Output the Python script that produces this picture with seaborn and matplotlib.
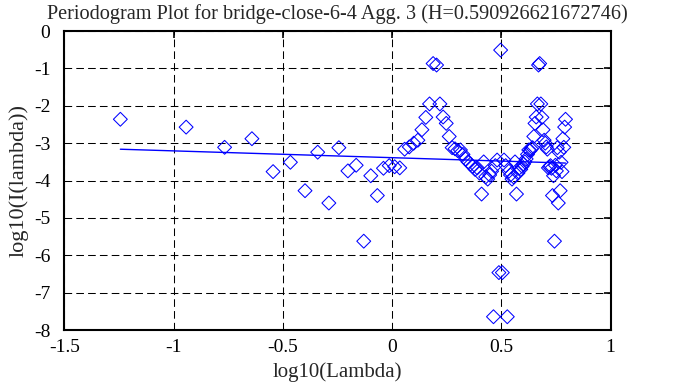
import numpy as np
import pandas as pd
import matplotlib
matplotlib.use("Agg")
import matplotlib.pyplot as plt
import seaborn as sns

# log10 of Fourier frequencies (x) and log10 of periodogram values (y)
log_lambda = [
    -1.2432, -0.9422, -0.7661, -0.6411, -0.5442, -0.4650, -0.3981, -0.3401, -0.2890, -0.2432,
    -0.2018, -0.1640, -0.1293, -0.0971, -0.0671, -0.0391, -0.0128, 0.0121, 0.0356, 0.0578,
    0.0790, 0.0992, 0.1185, 0.1370, 0.1547, 0.1718, 0.1882, 0.2040, 0.2192, 0.2339,
    0.2482, 0.2619, 0.2753, 0.2883, 0.3009, 0.3131, 0.3250, 0.3366, 0.3479, 0.3589,
    0.3696, 0.3800, 0.3903, 0.4003, 0.4100, 0.4196, 0.4289, 0.4380, 0.4470, 0.4558,
    0.4644, 0.4728, 0.4811, 0.4892, 0.4972, 0.5050, 0.5127, 0.5202, 0.5277, 0.5350,
    0.5421, 0.5492, 0.5561, 0.5630, 0.5697, 0.5763, 0.5829, 0.5893, 0.5956, 0.6019,
    0.6081, 0.6141, 0.6201, 0.6260, 0.6319, 0.6376, 0.6433, 0.6489, 0.6544, 0.6599,
    0.6653, 0.6706, 0.6759, 0.6811, 0.6862, 0.6913, 0.6963, 0.7013, 0.7062, 0.7110,
    0.7158, 0.7206, 0.7253, 0.7299, 0.7345, 0.7391, 0.7436, 0.7480, 0.7524, 0.7568,
    0.7611, 0.7654, 0.7696, 0.7738, 0.7780, 0.7821, 0.7862, 0.7902, 0.7942,
]
log_I = [
    -2.36, -2.57, -3.11, -2.88, -3.76, -3.51, -4.27, -3.24, -4.60, -3.12,
    -3.74, -3.59, -5.62, -3.87, -4.40, -3.67, -3.60, -3.63, -3.66, -3.16,
    -3.10, -3.00, -2.92, -2.64, -2.31, -1.95, -0.87, -0.91, -1.95, -2.30,
    -2.47, -2.82, -3.12, -3.15, -3.20, -3.18, -3.30, -3.42, -3.50, -3.56,
    -3.62, -3.70, -3.66, -3.80, -4.36, -3.50, -3.90, -3.96, -3.85, -3.75,
    -7.64, -3.60, -3.45, -6.46, -0.51, -6.46, -3.45, -3.60, -7.64, -3.75,
    -3.85, -3.96, -3.90, -3.50, -4.36, -3.80, -3.66, -3.70, -3.62, -3.56,
    -3.50, -3.42, -3.30, -3.18, -3.20, -3.15, -3.12, -2.82, -2.47, -2.30,
    -1.95, -0.91, -0.87, -1.95, -2.31, -2.64, -2.92, -3.00, -3.10, -3.16,
    -3.66, -3.63, -3.60, -3.67, -4.40, -3.87, -5.62, -3.59, -3.74, -3.12,
    -4.60, -3.24, -4.27, -3.51, -3.76, -2.88, -3.11, -2.57, -2.36,
]

H = 0.590926621672746
fit_intercept = -3.387
fit_slope = 1 - 2 * H

x_ticks = [-1.5, -1, -0.5, 0, 0.5, 1]
x_tick_labels = ["-1.5", "-1", "-0.5", "0", "0.5", "1"]
y_ticks = [0, -1, -2, -3, -4, -5, -6, -7, -8]
y_tick_labels = ["0", "-1", "-2", "-3", "-4", "-5", "-6", "-7", "-8"]

title = "Periodogram Plot for bridge-close-6-4 Agg. 3 (H=0.590926621672746)"

sns.set_style("white")
plt.rcParams["font.family"] = ["Liberation Serif", "DejaVu Serif"]
plt.rcParams["lines.scale_dashes"] = False

df = pd.DataFrame({"x": log_lambda, "y": log_I})
line_x = [log_lambda[0], log_lambda[-1]]
line_df = pd.DataFrame({"x": line_x,
                        "y": [fit_intercept + fit_slope * v for v in line_x]})

fig = plt.figure(figsize=(6.74, 3.87), dpi=100)
ax = fig.add_axes([64.25 / 674, (387 - 330.2) / 387, 546.25 / 674, 299.2 / 387])

ax.set_xlim(-1.5, 1)
ax.set_ylim(-8, 0)
ax.set_xticks(x_ticks)
ax.set_xticklabels(x_tick_labels)
ax.set_yticks(y_ticks)
ax.set_yticklabels(y_tick_labels)

ax.grid(True, color="black", linestyle=(0, (5.5, 3.0)), linewidth=0.75, zorder=0)
ax.set_axisbelow(True)

sns.scatterplot(data=df, x="x", y="y", marker="D", s=50, facecolor="none",
                edgecolor="#0000ff", linewidth=0.75, ax=ax, zorder=3)
sns.lineplot(data=line_df, x="x", y="y", color="#0000ff", linewidth=1.0, ax=ax, zorder=4)

for sp in ax.spines.values():
    sp.set_color("black")
    sp.set_linewidth(1.5)

ax.tick_params(axis="both", which="both", direction="in", length=5, width=1.2,
               top=True, right=True, labelsize=14, colors="black")
ax.tick_params(axis="y", pad=10)
ax.tick_params(axis="x", pad=6)

ax.set_xlabel("log10(Lambda)", fontsize=15, labelpad=5)
ax.set_ylabel("log10(I(lambda))", fontsize=16, labelpad=4)
ax.set_title(title, fontsize=14.6, pad=9)

fig.savefig("out.png", dpi=100)
